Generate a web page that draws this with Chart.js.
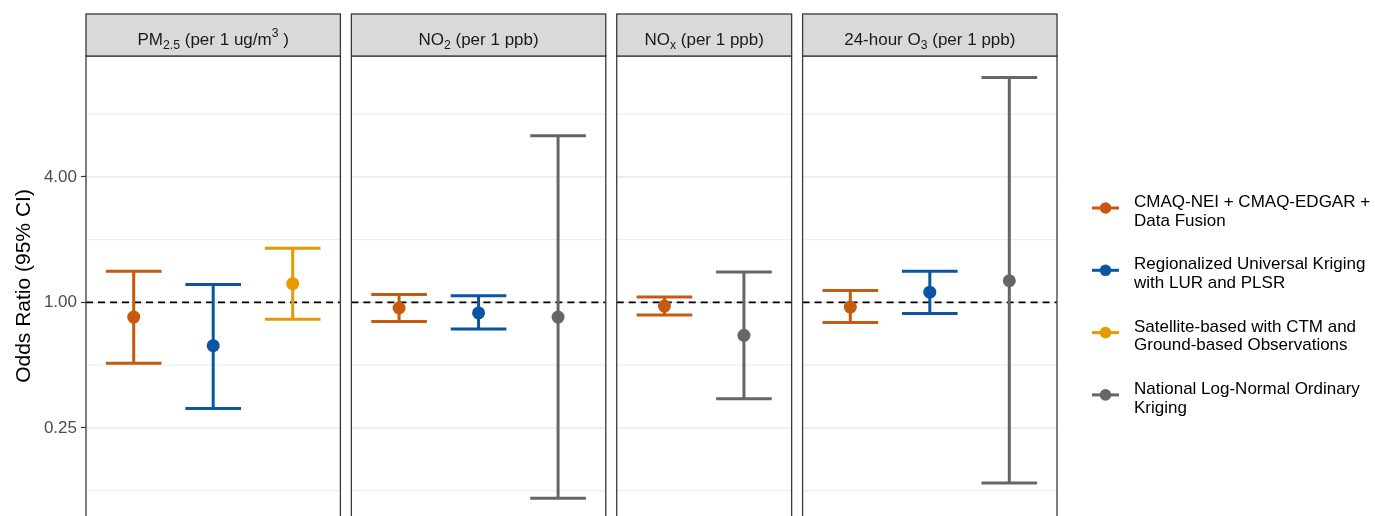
<!DOCTYPE html>
<html>
<head>
<meta charset="utf-8">
<script src="https://cdn.jsdelivr.net/npm/chart.js@4.4.1/dist/chart.umd.min.js"></script>
<style>
  html, body { margin: 0; padding: 0; background: #fff; }
  canvas { display: block; }
</style>
</head>
<body>
<canvas id="chart" width="1375" height="516"></canvas>
<script>
const FONT = '"Liberation Sans", Arial, Helvetica, sans-serif';

// Exposure facets; strip labels are rich-text runs ('' = normal, 'sub', 'sup')
const pollutants = ['PM2.5', 'NO2', 'NOx', 'O3 24-hour'];
const stripLabels = [
  [['PM', ''], ['2.5', 'sub'], [' (per 1 ug/m', ''], ['3', 'sup'], [' )', '']],
  [['NO', ''], ['2', 'sub'], [' (per 1 ppb)', '']],
  [['NO', ''], ['x', 'sub'], [' (per 1 ppb)', '']],
  [['24-hour O', ''], ['3', 'sub'], [' (per 1 ppb)', '']]
];

// Exposure assessment methods, in legend order
const methodLabels = [
  ['CMAQ-NEI + CMAQ-EDGAR +', 'Data Fusion'],
  ['Regionalized Universal Kriging', 'with LUR and PLSR'],
  ['Satellite-based with CTM and', 'Ground-based Observations'],
  ['National Log-Normal Ordinary', 'Kriging']
];
const methodColors = ['#C65A0E', '#0B55A3', '#E69A00', '#666666'];

// Odds ratios with 95% CI, one entry per pollutant (null = not estimated)
const orCmaq = [0.85, 0.94, 0.96, 0.95];
const loCmaq = [0.51, 0.81, 0.87, 0.80];
const hiCmaq = [1.41, 1.09, 1.06, 1.14];

const orRuk = [0.62, 0.89, null, 1.12];
const loRuk = [0.31, 0.745, null, 0.885];
const hiRuk = [1.22, 1.075, null, 1.41];

const orSat = [1.23, null, null, null];
const loSat = [0.83, null, null, null];
const hiSat = [1.82, null, null, null];

const orKrig = [null, 0.85, 0.695, 1.27];
const loKrig = [null, 0.115, 0.345, 0.136];
const hiKrig = [null, 6.3, 1.40, 12.0];

// Log2-spaced y axis
const yBreaks = [0.125, 0.25, 0.5, 1, 2, 4, 8];
const yLabelled = [0.25, 1, 4];
const yMin = 0.0945, yMax = 15.2;

const series = [
  { or: orCmaq, lo: loCmaq, hi: hiCmaq },
  { or: orRuk,  lo: loRuk,  hi: hiRuk  },
  { or: orSat,  lo: loSat,  hi: hiSat  },
  { or: orKrig, lo: loKrig, hi: hiKrig }
];

// Free-width facets: each panel spans its estimates plus 0.6 units either side
const EXPAND = 0.6, GAP = 0.138, CAP = 0.35;
const panels = [];
const xPos = series.map(() => []);
let cursor = 0;
pollutants.forEach((p, j) => {
  const present = series.map((s, i) => (s.or[j] != null ? i : -1)).filter(i => i >= 0);
  const start = cursor;
  present.forEach((i, k) => { xPos[i][j] = start + EXPAND + k; });
  const end = start + 2 * EXPAND + present.length - 1;
  panels.push({ start, end });
  cursor = end + GAP;
});
const xMax = cursor - GAP;

const gapPt = x => ({ x, y: null });
const datasets = [];

// Reference line at OR = 1, broken between panels
datasets.push({
  type: 'line',
  data: panels.flatMap(p => [{ x: p.start, y: 1 }, { x: p.end, y: 1 }, gapPt(p.end)]),
  borderColor: '#000', borderWidth: 1.8, borderDash: [7, 5],
  pointRadius: 0, spanGaps: false, fill: false, order: 3
});

series.forEach((s, i) => {
  const pts = [];
  s.or.forEach((v, j) => {
    if (v == null) return;
    const x = xPos[i][j];
    pts.push(
      { x, y: s.lo[j] }, { x, y: s.hi[j] }, gapPt(x),
      { x: x - CAP, y: s.hi[j] }, { x: x + CAP, y: s.hi[j] }, gapPt(x),
      { x: x - CAP, y: s.lo[j] }, { x: x + CAP, y: s.lo[j] }, gapPt(x)
    );
  });
  // confidence interval whiskers
  datasets.push({
    type: 'line', data: pts,
    borderColor: methodColors[i], borderWidth: 3, borderCapStyle: 'butt',
    pointRadius: 0, spanGaps: false, fill: false, order: 2
  });
  // point estimates
  datasets.push({
    type: 'scatter',
    data: s.or.map((v, j) => (v == null ? null : { x: xPos[i][j], y: v })).filter(Boolean),
    backgroundColor: methodColors[i], borderWidth: 0, pointRadius: 6.5, order: 1
  });
});

function drawRich(ctx, runs, cx, baseline, size) {
  const parts = runs.map(([t, kind]) => {
    const fs = kind ? size * 0.72 : size;
    ctx.font = fs + 'px ' + FONT;
    return { t, kind, fs, w: ctx.measureText(t).width };
  });
  const total = parts.reduce((a, p) => a + p.w, 0);
  let x = cx - total / 2;
  ctx.textAlign = 'left';
  ctx.textBaseline = 'alphabetic';
  parts.forEach(p => {
    ctx.font = p.fs + 'px ' + FONT;
    const dy = p.kind === 'sub' ? size * 0.25 : p.kind === 'sup' ? -size * 0.45 : 0;
    ctx.fillText(p.t, x, baseline + dy);
    x += p.w;
  });
}

const facetPlugin = {
  id: 'facets',
  beforeDatasetsDraw(chart) {
    const { ctx, scales: { x, y } } = chart;
    ctx.save();
    panels.forEach(p => {
      const l = x.getPixelForValue(p.start), r = x.getPixelForValue(p.end);
      yBreaks.forEach(v => {
        const py = y.getPixelForValue(v);
        ctx.strokeStyle = yLabelled.includes(v) ? '#E6E6E6' : '#EEEEEE';
        ctx.lineWidth = yLabelled.includes(v) ? 1.3 : 1.1;
        ctx.beginPath();
        ctx.moveTo(l, py);
        ctx.lineTo(r, py);
        ctx.stroke();
      });
    });
    ctx.restore();
  },
  afterDatasetsDraw(chart) {
    const { ctx, chartArea, scales: { x } } = chart;
    ctx.save();
    panels.forEach((p, j) => {
      const l = x.getPixelForValue(p.start), r = x.getPixelForValue(p.end);
      // panel frame
      ctx.strokeStyle = '#3A3A3A';
      ctx.lineWidth = 1.3;
      ctx.strokeRect(l, chartArea.top, r - l, chartArea.bottom - chartArea.top + 10);
      // strip
      const sTop = 14, sBot = chartArea.top;
      ctx.fillStyle = '#D9D9D9';
      ctx.fillRect(l, sTop, r - l, sBot - sTop);
      ctx.strokeRect(l, sTop, r - l, sBot - sTop);
      ctx.fillStyle = '#1A1A1A';
      drawRich(ctx, stripLabels[j], (l + r) / 2, 45, 17);
    });
    ctx.restore();
  },
  afterDraw(chart) {
    const { ctx } = chart;
    ctx.save();
    const step = 62.3;
    methodLabels.forEach((lines, i) => {
      const base = 207 + i * step;
      const my = base + 1;
      ctx.strokeStyle = methodColors[i];
      ctx.lineWidth = 3;
      ctx.beginPath();
      ctx.moveTo(1092, my);
      ctx.lineTo(1119, my);
      ctx.stroke();
      ctx.fillStyle = methodColors[i];
      ctx.beginPath();
      ctx.arc(1105.5, my, 5.8, 0, Math.PI * 2);
      ctx.fill();
      ctx.fillStyle = '#000';
      ctx.font = '17px ' + FONT;
      ctx.textAlign = 'left';
      ctx.textBaseline = 'alphabetic';
      lines.forEach((t, k) => ctx.fillText(t, 1134, base + k * 18.6));
    });
    ctx.restore();
  }
};

new Chart(document.getElementById('chart'), {
  type: 'scatter',
  data: { datasets },
  options: {
    responsive: false,
    animation: false,
    events: [],
    layout: { autoPadding: false, padding: { top: 56, right: 318, bottom: 0, left: 0 } },
    plugins: { legend: { display: false }, tooltip: { enabled: false } },
    scales: {
      x: { type: 'linear', min: 0, max: xMax, display: false },
      y: {
        type: 'logarithmic',
        min: yMin, max: yMax, bounds: 'data',
        afterBuildTicks: s => { s.ticks = yBreaks.map(v => ({ value: v })); },
        afterFit: s => { s.width = 86; s.paddingTop = 0; s.paddingBottom = 0; },
        border: { display: false },
        grid: {
          drawOnChartArea: false, drawTicks: true, tickLength: 5, tickWidth: 1.2,
          tickColor: c => (c.tick && yLabelled.includes(c.tick.value) ? '#333333' : 'rgba(0,0,0,0)')
        },
        ticks: {
          autoSkip: false, padding: 4, color: '#4D4D4D',
          font: { family: FONT, size: 17 },
          callback: v => (yLabelled.includes(v) ? v.toFixed(2) : '')
        },
        title: {
          display: true, text: 'Odds Ratio (95% CI)', color: '#000',
          font: { family: FONT, size: 21 }, padding: { top: 12, bottom: 0 }
        }
      }
    }
  },
  plugins: [facetPlugin]
});
</script>
</body>
</html>
